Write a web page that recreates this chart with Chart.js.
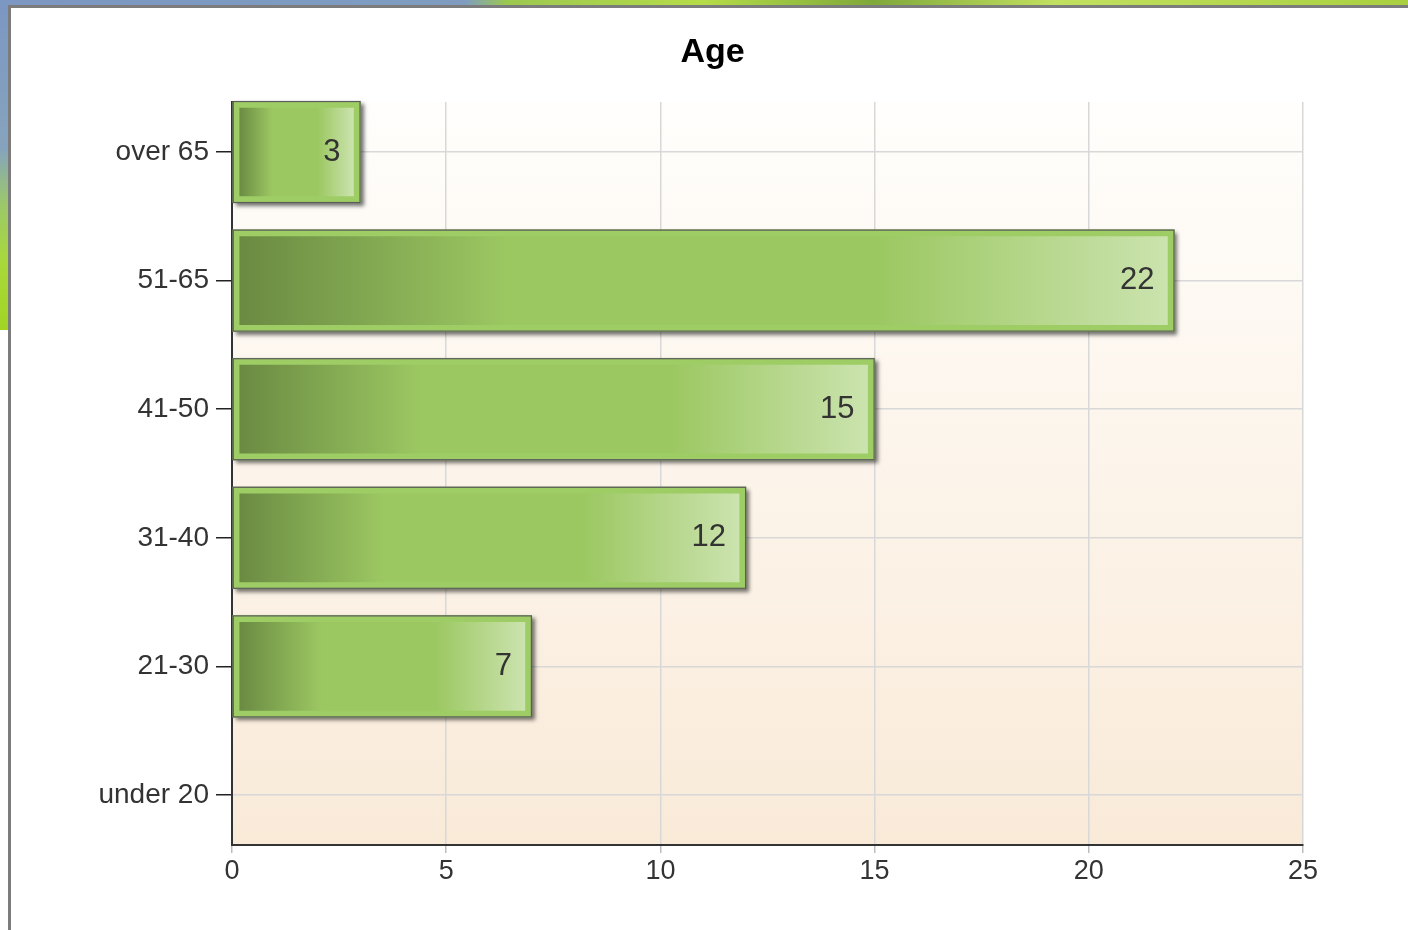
<!DOCTYPE html>
<html>
<head>
<meta charset="utf-8">
<script src="https://cdn.jsdelivr.net/npm/chart.js"></script>
<style>
  html, body { margin: 0; padding: 0; background: #fff; overflow: hidden; }
  #left-strip {
    position: absolute; left: 0; top: 0; width: 12px; height: 330px;
    background: linear-gradient(to bottom, #7b97c2 0%, #86a3bd 45%, #9cc86a 62%, #a9d83a 80%, #a2d424 100%);
  }
  #top-strip {
    position: absolute; left: 0; top: 0; width: 1408px; height: 8px;
    background: linear-gradient(to right, #7b97c2 0%, #7f9cc0 33%, #9cc850 36%, #b5dc48 50%, #7fa83a 62%, #c2e060 75%, #a9d040 100%);
  }
  #panel {
    position: absolute; left: 8px; top: 5px; width: 1400px; height: 925px;
    border-left: 3px solid #7c7c7c; border-top: 3px solid #7c7c7c;
    background: #fff;
  }
  #wrap { position: absolute; left: 0; top: 0; width: 1397px; height: 922px; }
</style>
</head>
<body>
<div id="left-strip"></div>
<div id="top-strip"></div>
<div id="panel">
  <div id="wrap"><canvas id="ageChart"></canvas></div>
</div>
<script>

// categories from bottom to top
const ageGroups = ['under 20', '21-30', '31-40', '41-50', '51-65', 'over 65'];
const counts = [null, 7, 12, 15, 22, 3];
const xTicks = [0, 5, 10, 15, 20, 25];
const chartTitle = 'Age';

const textColor = '#333';
const gridColor = '#d8d8d8';
const fontFamily = '"Liberation Sans", Arial, sans-serif';

// chart area background (light peach gradient) + title centred on the canvas
const areaBackground = {
  id: 'areaBackground',
  beforeDraw(chart) {
    const { ctx, chartArea: a } = chart;
    const g = ctx.createLinearGradient(0, a.top, 0, a.bottom);
    g.addColorStop(0, '#fffefc');
    g.addColorStop(1, '#f9ead8');
    ctx.save();
    ctx.fillStyle = g;
    ctx.fillRect(a.left, a.top, a.right - a.left, a.bottom - a.top);
    ctx.fillStyle = '#000';
    ctx.font = 'bold 34px ' + fontFamily;
    ctx.textAlign = 'center';
    ctx.textBaseline = 'middle';
    ctx.fillText(chartTitle, chart.width / 2 + 3, 45);
    ctx.restore();
  }
};

// drop shadow behind bars, dark outline and value labels
const barDecor = {
  id: 'barDecor',
  beforeDatasetsDraw(chart) {
    const { ctx } = chart;
    const meta = chart.getDatasetMeta(0);
    ctx.save();
    ctx.shadowColor = 'rgba(0,0,0,0.55)';
    ctx.shadowBlur = 4;
    ctx.shadowOffsetX = 3;
    ctx.shadowOffsetY = 3;
    ctx.fillStyle = '#777';
    meta.data.forEach((bar, i) => {
      if (counts[i] == null) return;
      const p = bar.getProps(['x', 'y', 'base', 'height'], true);
      ctx.fillRect(p.base, p.y - p.height / 2, p.x - p.base, p.height);
    });
    ctx.restore();
  },
  afterDatasetsDraw(chart) {
    const { ctx } = chart;
    const meta = chart.getDatasetMeta(0);
    ctx.save();
    meta.data.forEach((bar, i) => {
      if (counts[i] == null) return;
      const p = bar.getProps(['x', 'y', 'base', 'height'], true);
      ctx.strokeStyle = '#5c5c5c';
      ctx.lineWidth = 1.2;
      ctx.strokeRect(p.base + 0.5, p.y - p.height / 2 + 0.5, p.x - p.base - 1, p.height - 1);
      ctx.fillStyle = textColor;
      ctx.font = '31px ' + fontFamily;
      ctx.textAlign = 'right';
      ctx.textBaseline = 'middle';
      ctx.fillText(String(counts[i]), p.x - 20, p.y);
    });
    ctx.restore();
  }
};

function barGradient(c) {
  const chart = c.chart;
  if (!chart.chartArea || !c.parsed) return '#9cc862';
  const xs = chart.scales.x;
  const x0 = xs.getPixelForValue(0) + 7;
  const x1 = xs.getPixelForValue(c.parsed.x) - 7;
  if (!(x1 > x0)) return '#9cc862';
  const g = chart.ctx.createLinearGradient(x0, 0, x1, 0);
  g.addColorStop(0, '#6a8a42');
  g.addColorStop(0.29, '#9cc862');
  g.addColorStop(0.69, '#9cc862');
  g.addColorStop(1, '#cbe3ae');
  return g;
}

new Chart(document.getElementById('ageChart'), {
  type: 'bar',
  data: {
    datasets: [{
      label: 'Age',
      data: counts.map((v, i) => ({ x: v, y: i })),
      backgroundColor: barGradient,
      borderColor: '#9ecd65',
      borderWidth: 7,
      borderSkipped: false,
      barThickness: 102
    }]
  },
  options: {
    indexAxis: 'y',
    responsive: true,
    maintainAspectRatio: false,
    animation: false,
    layout: { padding: { left: 0, right: 105, top: 94, bottom: 25 } },
    plugins: {
      legend: { display: false },
      tooltip: { enabled: false },
      title: { display: false }
    },
    scales: {
      x: {
        type: 'linear',
        min: 0,
        max: 25,
        afterBuildTicks: s => { s.ticks = xTicks.map(v => ({ value: v })); },
        afterFit: s => { s.height = 60; },
        grid: { color: gridColor, tickColor: '#bdbdbd', tickLength: 8, lineWidth: 1.5 },
        border: { color: '#333', width: 2 },
        ticks: {
          color: textColor,
          padding: 2,
          font: { family: fontFamily, size: 27 }
        }
      },
      y: {
        type: 'linear',
        offset: false,
        min: -0.389,
        max: ageGroups.length - 1 + 0.389,
        afterBuildTicks: s => { s.ticks = ageGroups.map((_, i) => ({ value: i })); },
        afterFit: s => { s.width = 221; },
        grid: { offset: false, color: gridColor, tickColor: '#222', tickLength: 16, lineWidth: 1.5 },
        border: { color: '#333', width: 2 },
        ticks: {
          color: textColor,
          padding: 7,
          font: { family: fontFamily, size: 28 },
          callback: v => ageGroups[v]
        }
      }
    }
  },
  plugins: [areaBackground, barDecor]
});

</script>
</body>
</html>
